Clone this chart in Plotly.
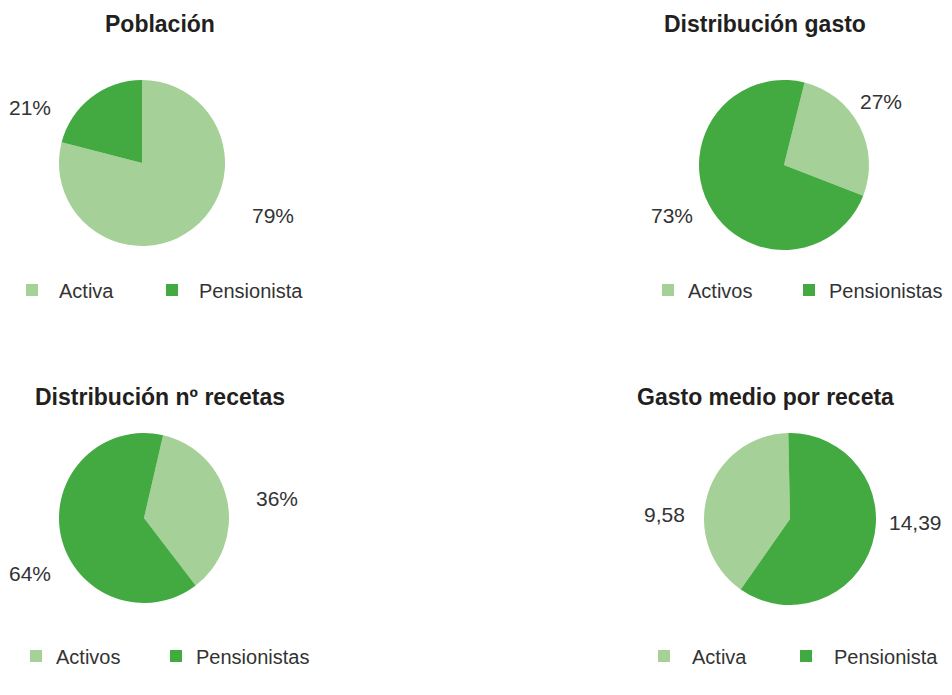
import plotly.graph_objects as go

W, H = 952, 695

# ---- data ----
titles = ["Población", "Distribución gasto", "Distribución nº recetas", "Gasto medio por receta"]
labels_poblacion = ["Activa", "Pensionista"]
values_poblacion = [79, 21]
labels_gasto = ["Activos", "Pensionistas"]
values_gasto = [27, 73]
labels_recetas = ["Activos", "Pensionistas"]
values_recetas = [36, 64]
labels_medio = ["Activa", "Pensionista"]
values_medio = [9.58, 14.39]

LIGHT = "#a5d097"
DARK = "#43aa42"
TXT = "#333333"
FONT = "Liberation Sans, Arial, sans-serif"


def px_x(x):
    return x / W


def px_y(y):
    return 1 - y / H


def fmt_pct(v):
    return f"{v:g}%"


def fmt_num(v):
    return f"{v:.2f}".replace(".", ",")


# (labels, values, formatter, pie box px, rotation, title centre, value-label centres,
#  first legend symbol centre, legend id, legend item width, entry spacing)
panels = [
    (labels_poblacion, values_poblacion, fmt_pct, (59, 225, 80, 246), 0,
     (160, 24), [(273, 215), (30, 108)], (32, 290), "legend", 44, 140),
    (labels_gasto, values_gasto, fmt_pct, (699, 869, 80, 250), 14,
     (765, 24), [(881, 101), (672, 215)], (668, 290), "legend2", 30, 141),
    (labels_recetas, values_recetas, fmt_pct, (59, 229, 433, 603), 13,
     (160, 397), [(277, 499), (30, 573)], (36, 656), "legend3", 30, 140),
    (labels_medio, values_medio, fmt_num, (704, 876, 433, 605), 215,
     (765, 397), [(664, 514), (915, 522)], (664, 656), "legend4", 46, 142),
]

fig = go.Figure()
annotations = []
layout_legends = {}

for i, (labs, vals, fmt, box, rot, tpos, lpos, legpos, legid, iw, step) in enumerate(panels):
    x0, x1, y0, y1 = box
    fig.add_trace(go.Pie(
        labels=labs, values=vals,
        marker=dict(colors=[LIGHT, DARK], line=dict(width=0)),
        sort=False, direction="clockwise", rotation=rot,
        textinfo="none", hoverinfo="label+value",
        domain=dict(x=[px_x(x0), px_x(x1)], y=[px_y(y1), px_y(y0)]),
        legend=legid, legendgroup=f"g{i}", showlegend=True,
    ))
    annotations.append(dict(
        x=px_x(tpos[0]), y=px_y(tpos[1]), xref="paper", yref="paper",
        text=f"<b>{titles[i]}</b>", showarrow=False,
        xanchor="center", yanchor="middle",
        font=dict(family=FONT, size=23, color="#231f20"),
    ))
    for v, (lx, ly) in zip(vals, lpos):
        annotations.append(dict(
            x=px_x(lx), y=px_y(ly), xref="paper", yref="paper",
            text=fmt(v), showarrow=False, xanchor="center", yanchor="middle",
            font=dict(family=FONT, size=21, color=TXT),
        ))
    layout_legends[legid] = dict(
        orientation="h", x=px_x(legpos[0] - (5 + iw / 2)), y=px_y(legpos[1]),
        xanchor="left", yanchor="middle", traceorder="normal",
        itemwidth=iw, entrywidth=step - iw - 15,
        font=dict(family=FONT, size=20, color=TXT),
        bgcolor="rgba(0,0,0,0)", borderwidth=0,
    )

fig.update_layout(
    width=W, height=H,
    margin=dict(l=0, r=0, t=0, b=0),
    paper_bgcolor="white", plot_bgcolor="white",
    annotations=annotations,
    **layout_legends,
)

# let the last legend entry's text run past its fixed entry width instead of being clipped
unclip = ("document.querySelectorAll('.scrollbox').forEach("
          "function(e){e.removeAttribute('clip-path');});")
fig.write_html("out.html", post_script=unclip)
